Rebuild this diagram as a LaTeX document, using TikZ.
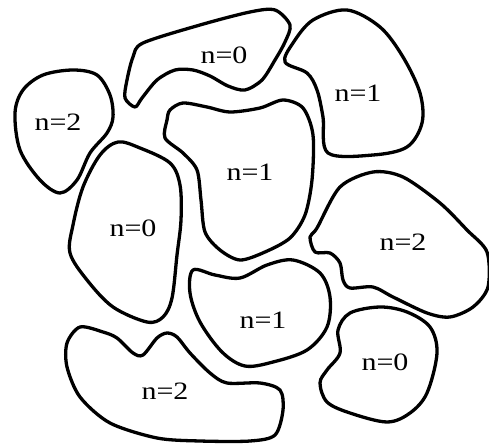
\documentclass[tikz,border=0pt]{standalone}
\usepackage{fontspec}
\setmainfont{Liberation Serif}[FakeStretch=1.2]
\usepackage{tikz}

\begin{document}
\begin{tikzpicture}[x=1bp, y=-1bp,
    lab/.style={font=\fontsize{25bp}{28bp}\selectfont, inner sep=0pt}]

  % ====== 1) frame of the picture ======
  \useasboundingbox (0,0) rectangle (489,444);
  \tikzset{every path/.style={line width=3.3bp, line join=round}}

  % ====== 2) top row ======
  \draw plot[smooth cycle, tension=0.55] coordinates {
    (73,70) (97,75) (110,95) (113,117) (107,133) (90,153) (77,180)
    (60,193) (40,180) (20,150) (15,113) (23,90) (43,75)};
  \node[lab] (na) at (58,122) {n=2};

  \draw plot[smooth cycle, tension=0.5] coordinates {
    (262,80) (245,90) (228,86) (210,76) (193,70) (175,70) (157,80)
    (142,98) (135,107) (125,98) (127,80) (133,57) (143,43) (200,25)
    (250,12) (275,10) (290,25) (285,42) (275,60)};
  \node[lab] (nb) at (224,55) {n=0};

  \draw plot[smooth cycle, tension=0.55] coordinates {
    (347,10) (313,20) (293,43) (285,62) (307,73) (317,90) (323,117)
    (328,153) (373,155) (407,147) (422,123) (420,93) (403,57) (380,27)};
  \node[lab] (nc) at (358,93) {n=1};

  % ====== 3) middle row ======
  \draw plot[smooth cycle, tension=0.5] coordinates {
    (170,110) (183,103) (207,107) (230,112) (260,108) (283,100) (303,108)
    (313,135) (312,180) (305,215) (290,238) (265,252) (240,260) (220,250)
    (205,232) (201,200) (197,170) (183,153) (165,138) (167,120)};
  \node[lab] (nd) at (250,172) {n=1};

  \draw plot[smooth cycle, tension=0.55] coordinates {
    (118,142) (140,148) (170,163) (180,185) (181,220) (177,255) (172,298)
    (163,317) (147,322) (113,307) (87,280) (70,253) (73,225) (83,187)
    (100,155)};
  \node[lab] (ne) at (133,228) {n=0};

  \draw plot[smooth cycle, tension=0.5] coordinates {
    (317,228) (340,187) (373,172) (403,177) (440,203) (467,230) (487,252)
    (488,287) (473,307) (450,317) (427,313) (393,297) (373,287) (350,288)
    (343,280) (340,263) (330,253) (315,252) (310,237)};
  \node[lab] (nf) at (403,242) {n=2};

  % ====== 4) bottom row ======
  \draw plot[smooth cycle, tension=0.55] coordinates {
    (193,270) (215,275) (240,278) (267,265) (293,260) (320,273) (330,297)
    (327,327) (307,350) (273,362) (245,366) (222,352) (200,322) (190,293)};
  \node[lab] (ng) at (263,320) {n=1};

  \draw plot[smooth cycle, tension=0.55] coordinates {
    (380,307) (350,313) (338,330) (340,353) (327,370) (320,383) (327,402)
    (350,413) (387,422) (410,413) (427,393) (437,353) (430,327) (407,312)};
  \node[lab] (nh) at (385,362) {n=0};

  \draw plot[smooth cycle, tension=0.5] coordinates {
    (80,327) (103,332) (117,338) (133,353) (143,355) (157,338) (167,333)
    (177,337) (190,353) (210,373) (227,383) (260,383) (280,390) (283,410)
    (275,435) (250,441) (200,441) (157,438) (110,423) (80,397) (67,367)
    (67,343)};
  \node[lab] (ni) at (165,391) {n=2};

\end{tikzpicture}
\end{document}
